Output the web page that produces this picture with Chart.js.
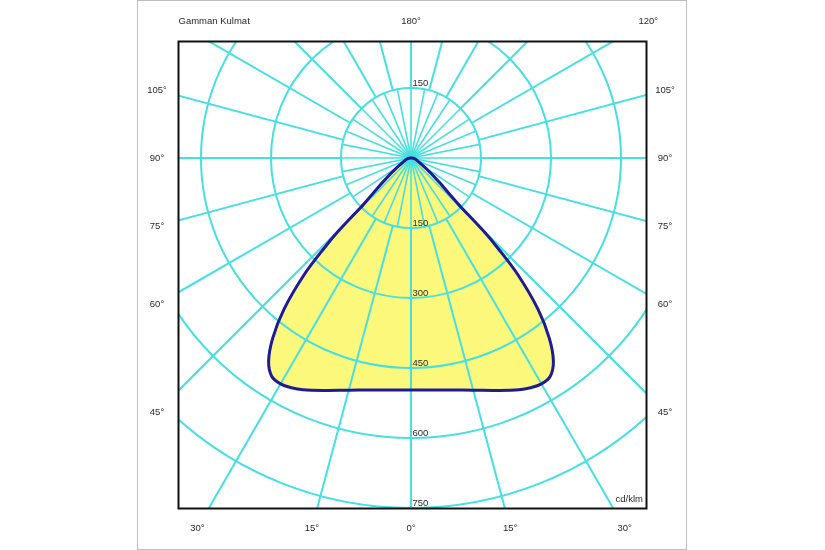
<!DOCTYPE html>
<html><head><meta charset="utf-8">
<script src="https://cdn.jsdelivr.net/npm/chart.js@4/dist/chart.umd.min.js"></script>
<style>html,body{margin:0;padding:0;background:#fff}canvas{display:block}</style>
</head><body>
<canvas id="c" width="825" height="550"></canvas>
<script>
// Gamma angle (deg from nadir) and luminous intensity (cd/klm), symmetric curve
const gammaAngles = [0, 5, 10, 15, 20, 25, 27.5, 30, 32.5, 35, 37.5, 40, 42.5, 44, 44.8, 45.6, 47, 49, 52, 55, 60, 70, 80, 90];
const intensity   = [497, 499, 505, 515, 530, 548, 555, 559, 555, 532, 487, 424, 338, 265, 222, 146, 112, 85, 58, 40, 24, 13, 7, 2];
const ringValues = [150, 300, 450, 600, 750];
const upperRingLabels = [150];
const sideAngleLabels = [105, 90, 75, 60, 45];
const bottomAngleLabels = [-30, -15, 0, 15, 30];
const topAngleLabels = [180, 120];
const unitLabel = 'cd/klm';
const titleLabel = 'Gamman Kulmat';

function toXY(g, I) {
  const a = g * Math.PI / 180;
  return { x: I * Math.sin(a), y: -I * Math.cos(a) };
}
// main body: |gamma| <= 45.6 (smooth), apex part: |gamma| >= 45.6 (straight flanks)
const SPLIT = 45.6, FILL_SPLIT = 42.5;
function bodyPoints(limit) {
  const pts = [];
  for (let i = gammaAngles.length - 1; i >= 1; i--) if (gammaAngles[i] <= limit) pts.push(toXY(-gammaAngles[i], intensity[i]));
  for (let i = 0; i < gammaAngles.length; i++) if (gammaAngles[i] <= limit) pts.push(toXY(gammaAngles[i], intensity[i]));
  return pts;
}
function apexPoints(limit) {
  const pts = [];
  for (let i = 0; i < gammaAngles.length; i++) if (gammaAngles[i] >= limit) pts.push(toXY(gammaAngles[i], intensity[i]));
  for (let i = gammaAngles.length - 1; i >= 0; i--) if (gammaAngles[i] >= limit) pts.push(toXY(-gammaAngles[i], intensity[i]));
  return pts;
}

// layout (pixels)
const PX = 150 / 70; // cd/klm per pixel
const AREA = { left: 178, right: 646, top: 41, bottom: 508, cx: 411, cy: 158 };

const FONT = '9.5px "Liberation Sans", Arial, sans-serif';
const GRID = '#46e0e0';
const TEXT = '#2a2a2a';
const FILL = '#fcf87c';
const LINE = '#1f1a96';

const polarGrid = {
  id: 'polarGrid',
  afterDatasetDraw(chart, args) {
    if (args.index !== 1) return;
    const ctx = chart.ctx, xs = chart.scales.x, ys = chart.scales.y, ca = chart.chartArea;
    const cx = xs.getPixelForValue(0), cy = ys.getPixelForValue(0);
    const rp = v => xs.getPixelForValue(v) - cx;
    ctx.save();
    ctx.beginPath(); ctx.rect(ca.left, ca.top, ca.right - ca.left, ca.bottom - ca.top); ctx.clip();
    ctx.strokeStyle = GRID; ctx.lineWidth = 2;
    ringValues.forEach(v => { ctx.beginPath(); ctx.arc(cx, cy, rp(v), 0, Math.PI * 2); ctx.stroke(); });
    const spoke = (deg, r0, r1) => {
      const a = deg * Math.PI / 180, s = Math.sin(a), c = Math.cos(a);
      ctx.beginPath();
      ctx.moveTo(xs.getPixelForValue(r0 * s), ys.getPixelForValue(-r0 * c));
      ctx.lineTo(xs.getPixelForValue(r1 * s), ys.getPixelForValue(-r1 * c));
      ctx.stroke();
    };
    ctx.lineWidth = 1.6;
    for (let k = 0; k < 32; k++) spoke(k * 11.25, 0, ringValues[0]);
    ctx.lineWidth = 2;
    for (let k = 0; k < 24; k++) spoke(k * 15, ringValues[0], 2000);
    ctx.restore();
  },
  afterDraw(chart) {
    const ctx = chart.ctx, xs = chart.scales.x, ys = chart.scales.y, ca = chart.chartArea;
    const cx = xs.getPixelForValue(0), cy = ys.getPixelForValue(0);
    ctx.save();
    ctx.strokeStyle = '#bcbcbc'; ctx.lineWidth = 1;
    ctx.strokeRect(137.5, 0.5, 549, 549);
    ctx.strokeStyle = '#111'; ctx.lineWidth = 2;
    ctx.strokeRect(ca.left + 0.5, ca.top + 0.5, ca.right - ca.left, ca.bottom - ca.top);
    ctx.fillStyle = TEXT; ctx.font = FONT;
    ctx.textAlign = 'left'; ctx.textBaseline = 'alphabetic';
    ringValues.forEach(v => ctx.fillText(String(v), cx + 1.5, ys.getPixelForValue(-v) - 2));
    upperRingLabels.forEach(v => ctx.fillText(String(v), cx + 1.5, ys.getPixelForValue(v) - 2));
    ctx.textAlign = 'right';
    ctx.fillText(unitLabel, ca.right - 3, ca.bottom - 6);
    ctx.textAlign = 'left'; ctx.textBaseline = 'middle';
    ctx.fillText(titleLabel, ca.left + 0.5, ca.top - 20);
    ctx.textAlign = 'center';
    const D = cx - (ca.left - 21);
    const H = (ca.bottom + 20) - cy;
    const T = cy - (ca.top - 20);
    sideAngleLabels.forEach(a => {
      const r = a * Math.PI / 180;
      const y = cy + D * Math.cos(r) / Math.sin(r);
      ctx.fillText(a + '°', cx - D, y);
      ctx.fillText(a + '°', cx + D, y);
    });
    bottomAngleLabels.forEach(a => {
      const x = cx + H * Math.tan(a * Math.PI / 180);
      ctx.fillText(Math.abs(a) + '°', x, cy + H);
    });
    topAngleLabels.forEach(a => {
      const r = a * Math.PI / 180;
      const t = T / -Math.cos(r);
      ctx.fillText(a + '°', cx + t * Math.sin(r), cy - T);
    });
    ctx.restore();
  }
};

const common = { pointRadius: 0, borderJoinStyle: 'round', borderCapStyle: 'round' };
new Chart(document.getElementById('c'), {
  type: 'line',
  data: {
    datasets: [
      Object.assign({ data: bodyPoints(SPLIT), fill: 'shape', backgroundColor: FILL, borderWidth: 0, borderColor: 'rgba(0,0,0,0)', tension: 0.35, order: 3 }, common),
      Object.assign({ data: apexPoints(FILL_SPLIT), fill: 'shape', backgroundColor: FILL, borderWidth: 0, borderColor: 'rgba(0,0,0,0)', tension: 0, order: 2 }, common),
      Object.assign({ data: bodyPoints(SPLIT), fill: false, borderColor: LINE, borderWidth: 3, tension: 0.35, order: 1 }, common),
      Object.assign({ data: apexPoints(SPLIT), fill: false, borderColor: LINE, borderWidth: 3, tension: 0, order: 0 }, common)
    ]
  },
  options: {
    responsive: false, animation: false, devicePixelRatio: 1,
    layout: { padding: { left: AREA.left, right: 825 - AREA.right, top: AREA.top, bottom: 550 - AREA.bottom } },
    scales: {
      x: { type: 'linear', display: false, min: (AREA.left - AREA.cx) * PX, max: (AREA.right - AREA.cx) * PX },
      y: { type: 'linear', display: false, min: -(AREA.bottom - AREA.cy) * PX, max: (AREA.cy - AREA.top) * PX }
    },
    plugins: { legend: { display: false }, tooltip: { enabled: false } }
  },
  plugins: [polarGrid]
});
</script>
</body></html>
